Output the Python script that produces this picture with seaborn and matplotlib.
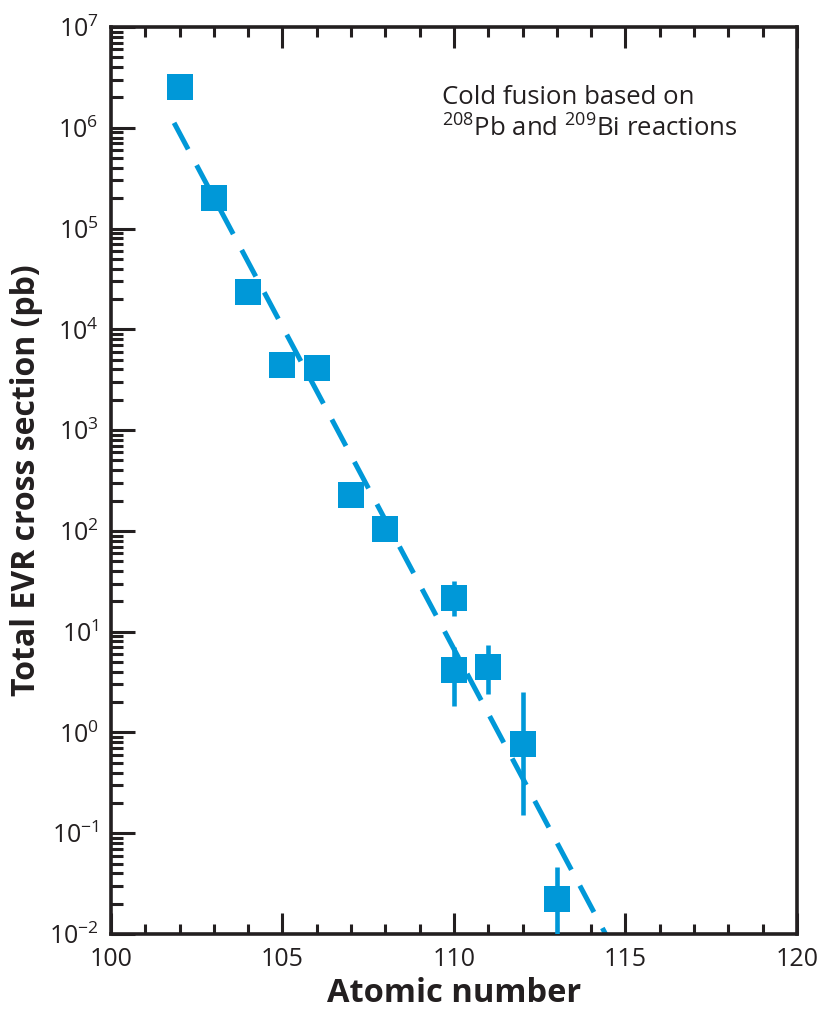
import numpy as np
import pandas as pd
import seaborn as sns
import matplotlib.pyplot as plt
from matplotlib.ticker import MultipleLocator, NullFormatter, FixedLocator

# values
atomic_number = [102, 103, 104, 105, 106, 107, 108, 110, 110, 111, 112, 113]
cross_section = [2.55e6, 2.0e5, 2.35e4, 4.4e3, 4.1e3, 226, 105, 21.6, 4.2, 4.5, 0.77, 0.0223]
err_low = [np.nan, np.nan, np.nan, np.nan, np.nan, np.nan, np.nan, 14.3, 1.85, 2.4, 0.153, 0.008]
err_high = [np.nan, np.nan, np.nan, np.nan, np.nan, np.nan, np.nan, 32, 7.0, 7.3, 2.5, 0.0458]

fit_x = [101.84, 114.5]
fit_y = [1.12e6, 0.0089]

blue = "#0098d8"
ink = "#231f20"

sns.set_theme(style="ticks")
plt.rcParams["font.family"] = ["Open Sans", "DejaVu Sans"]
plt.rcParams["mathtext.fontset"] = "custom"
plt.rcParams["mathtext.rm"] = "Open Sans"
plt.rcParams["mathtext.it"] = "Open Sans"
plt.rcParams["mathtext.bf"] = "Open Sans:bold"

df = pd.DataFrame({"Z": atomic_number, "sigma": cross_section})

fig = plt.figure(figsize=(8.19, 10.16), dpi=100)
ax = fig.add_axes([0.1355, 0.0807, 0.8375, 0.8927])

# fitted trend
ax.plot(fit_x, fit_y, color=blue, lw=3.6, dashes=(6, 3.6), dash_capstyle="butt", zorder=2)

# error bars
for x, lo, hi in zip(atomic_number, err_low, err_high):
    if not np.isnan(lo):
        ax.vlines(x, lo, hi, color=blue, lw=3.3, zorder=3)

sns.scatterplot(data=df, x="Z", y="sigma", marker="s", s=330, color=blue,
                linewidth=0, ax=ax, zorder=4, legend=False)

ax.set_yscale("log")
ax.set_xlim(100, 120)
ax.set_ylim(1e-2, 1e7)

ax.xaxis.set_major_locator(MultipleLocator(5))
ax.xaxis.set_minor_locator(MultipleLocator(1))
decades = [10.0 ** k for k in range(-2, 8)]
ax.yaxis.set_major_locator(FixedLocator(decades))
minors = [m * d for d in decades[:-1] for m in range(2, 10)]
ax.yaxis.set_minor_locator(FixedLocator(minors))
ax.yaxis.set_minor_formatter(NullFormatter())

ax.tick_params(axis="both", which="both", direction="in", color=ink, width=2.2,
               labelsize=18, labelcolor=ink, pad=9)
ax.tick_params(axis="x", which="major", length=15, top=True)
ax.tick_params(axis="x", which="minor", length=7.5, top=True)
ax.tick_params(axis="y", which="major", length=17, right=False)
ax.tick_params(axis="y", which="minor", length=8.5, right=False)

for sp in ax.spines.values():
    sp.set_visible(True)
    sp.set_linewidth(2.6)
    sp.set_color(ink)

ax.set_xlabel("Atomic number", fontsize=23.5, fontweight="bold", color=ink, labelpad=4)
ax.set_ylabel("Total EVR cross section (pb)", fontsize=23, fontweight="bold", color=ink, labelpad=4)

ax.text(0.482, 0.904, "Cold fusion based on\n$^{208}$Pb and $^{209}$Bi reactions",
        transform=ax.transAxes, fontsize=18.5, color=ink, ha="left", va="center",
        linespacing=1.25)

fig.savefig("out.png", dpi=100)
